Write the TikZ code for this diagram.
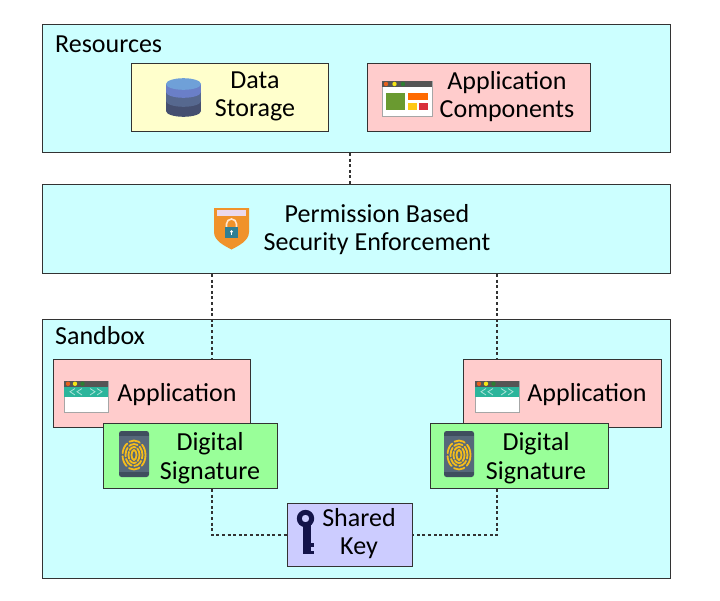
\documentclass[tikz,border=0pt]{standalone}
\usepackage{fontspec}
\setmainfont{Carlito}
\definecolor{bgcyan}{HTML}{CCFFFF}
\definecolor{bgyellow}{HTML}{FFFFCC}
\definecolor{bgpink}{HTML}{FFCCCC}
\definecolor{bggreen}{HTML}{99FF99}
\definecolor{bgpurple}{HTML}{CCCCFF}
\definecolor{edgegray}{HTML}{333333}
\definecolor{winbar}{HTML}{555555}
\definecolor{winteal}{HTML}{2BB59B}
\definecolor{phoneblue}{HTML}{56687A}
\definecolor{phonedark}{HTML}{3F4E5E}
\definecolor{printgold}{HTML}{F5BC1C}
\definecolor{keynavy}{HTML}{14144A}
\definecolor{dbone}{HTML}{6FA0D8}
\definecolor{dbtwo}{HTML}{6A7FC8}
\definecolor{dbthree}{HTML}{56688F}
\definecolor{dbfour}{HTML}{454F70}
\definecolor{shieldorange}{HTML}{F0922A}
\definecolor{lockteal}{HTML}{2F7F94}
\definecolor{compgreen}{HTML}{6A9A30}
\definecolor{comporange}{HTML}{FF6A00}
\definecolor{compyellow}{HTML}{FFC814}
\definecolor{compred}{HTML}{D8303C}
\definecolor{dotorange}{HTML}{E8601C}
\definecolor{dotyellow}{HTML}{F5E616}
\definecolor{dotgreen}{HTML}{2E7D32}
\tikzset{
  x=1pt,y=-1pt,
  boxnode/.style={draw=edgegray,line width=1pt,rectangle,inner sep=0pt,anchor=north west},
  txt/.style={inner sep=0pt,align=center,text=black,font=\fontsize{26}{28.5}\selectfont},
  conn/.style={draw=edgegray,line width=2pt,dash pattern=on 3pt off 2.6pt},
  winicon/.pic={
    \fill[white,draw=gray!70,line width=.5pt] (0,0) rectangle (44,31);
    \fill[winbar] (0,0) rectangle (44,5.5);
    \fill[winteal] (0,5.5) rectangle (44,16);
    \fill[dotorange] (4,2.8) circle (2.2pt);
    \fill[dotyellow] (11,2.8) circle (2.2pt);
    \fill[dotgreen] (18.5,2.8) circle (2.2pt);
    \draw[white!60!winteal,line width=.8pt]
      (11,7.5)--(6,10.7)--(11,14) (18,7.5)--(13,10.7)--(18,14)
      (26,7.5)--(31,10.7)--(26,14) (33,7.5)--(38,10.7)--(33,14);
  },
  phoneicon/.pic={
    \fill[phonedark,rounded corners=2.5pt] (0,0) rectangle (30,46);
    \fill[phoneblue] (0,5) rectangle (30,41);
    \begin{scope}[printgold,line width=1.8pt,line cap=round]
      \draw (15,24) ellipse (2.5pt and 5pt);
      \draw[dash pattern=on 7pt off 2pt] (15,24) ellipse (5.5pt and 8pt);
      \draw[dash pattern=on 9pt off 2.5pt] (15,24) ellipse (8.5pt and 11pt);
      \draw[dash pattern=on 11pt off 3pt] (15,24) ellipse (11.5pt and 14.5pt);
    \end{scope}
  },
}
\begin{document}
\begin{tikzpicture}
\useasboundingbox (0,0) rectangle (720,600);
\fill[white] (0,0) rectangle (720,600);
% big panels
\node[boxnode,fill=bgcyan,minimum width=628pt,minimum height=128pt] (res) at (42,24) {};
\node[boxnode,fill=bgcyan,minimum width=628pt,minimum height=89pt] (perm) at (42,184) {};
\node[boxnode,fill=bgcyan,minimum width=628pt,minimum height=259pt] (sand) at (42,319) {};
\coordinate (xtop) at (350,0);
\coordinate (xleft) at (212,0);
\coordinate (xright) at (497,0);
% inner boxes
\node[boxnode,fill=bgyellow,minimum width=197pt,minimum height=68pt] (data) at (131,63) {};
\node[boxnode,fill=bgpink,minimum width=223pt,minimum height=68pt] (comp) at (367,63) {};
\node[boxnode,fill=bgpink,minimum width=197pt,minimum height=68pt] (appl) at (53,359) {};
\node[boxnode,fill=bgpink,minimum width=198pt,minimum height=68pt] (appr) at (463,359) {};
\node[boxnode,fill=bggreen,minimum width=174pt,minimum height=65pt] (sigl) at (103,423) {};
\node[boxnode,fill=bggreen,minimum width=178pt,minimum height=65pt] (sigr) at (430,423) {};
\node[boxnode,fill=bgpurple,minimum width=125pt,minimum height=63pt] (key) at (287,503) {};
% connectors
\draw[conn] (res.south -| xtop) -- (perm.north -| xtop);
\draw[conn] (perm.south -| xleft) -- (appl.north -| xleft);
\draw[conn] (perm.south -| xright) -- (appr.north -| xright);
\draw[conn] (sigl.south -| xleft) |- (key.west);
\draw[conn] (sigr.south -| xright) |- (key.east);
% labels
\node[txt,anchor=west] (tres) at (55,44) {Resources};
\node[txt,anchor=west] (tsand) at (55,336) {Sandbox};
\node[txt] (tdata) at (255,96.5) {Data\\Storage};
\node[txt] (tcomp) at (507,96.5) {Application\\Components};
\node[txt] (tperm) at (377,229.5) {Permission Based\\Security Enforcement};
\node[txt] (tappl) at (177,394.5) {Application};
\node[txt] (tappr) at (587,394.5) {Application};
\node[txt] (tsigl) at (210,458) {Digital\\Signature};
\node[txt] (tsigr) at (536,458) {Digital\\Signature};
\node[txt] (tkey) at (359,533.5) {Shared\\Key};
% database icon
\fill[dbfour] (166,100) rectangle (201,111);
\fill[dbfour] (183.5,111) ellipse (17.5pt and 5.8pt);
\fill[dbthree] (166,92) rectangle (201,101);
\fill[dbthree] (183.5,101) ellipse (17.5pt and 5.8pt);
\fill[dbtwo] (166,84) rectangle (201,92);
\fill[dbtwo] (183.5,92) ellipse (17.5pt and 5.8pt);
\fill[dbone] (183.5,84) ellipse (17.5pt and 5.8pt);
% component window icon
\fill[white,draw=gray!70,line width=.5pt] (382,81) rectangle (432,116);
\fill[winbar] (382,81) rectangle (432,87);
\fill[dotorange] (386,84) circle (2.2pt);
\fill[dotyellow] (394.5,84) circle (2.2pt);
\fill[dotgreen] (403,84) circle (2.2pt);
\fill[compgreen] (386,93) rectangle (405,110);
\fill[comporange] (408,93) rectangle (428,100);
\fill[compyellow] (408,103) rectangle (417,110);
\fill[compred] (419,103) rectangle (428,110);
% shield icon
\fill[shieldorange] (214,208) -- (249,208) -- (249,232) .. controls (249,241) and (238,246) .. (231.5,249.5) .. controls (225,246) and (214,241) .. (214,232) -- cycle;
\fill[white!85!violet] (217,210) rectangle (246,216);
\draw[white!80!orange,line width=1.6pt] (226.5,228) -- (226.5,224) arc[start angle=180,end angle=0,x radius=5,y radius=-5] -- (236.5,228);
\fill[lockteal] (225,227) rectangle (238,238);
\fill[white] (231.5,231.5) circle (1.5pt);
\fill[white] (230.8,231.5) rectangle (232.2,235);
% window and phone icons
\pic at (64,381) {winicon};
\pic at (475,381) {winicon};
\pic at (119,431) {phoneicon};
\pic at (444,431) {phoneicon};
% key icon
\fill[keynavy,even odd rule] (305.5,518.5) circle (8.7pt) (305.5,518.5) circle (3.8pt);
\fill[keynavy] (303,525) rectangle (310.5,554);
\fill[keynavy] (310,543) rectangle (313.5,547);
\fill[keynavy] (310,551) rectangle (313.5,554);
\end{tikzpicture}
\end{document}
